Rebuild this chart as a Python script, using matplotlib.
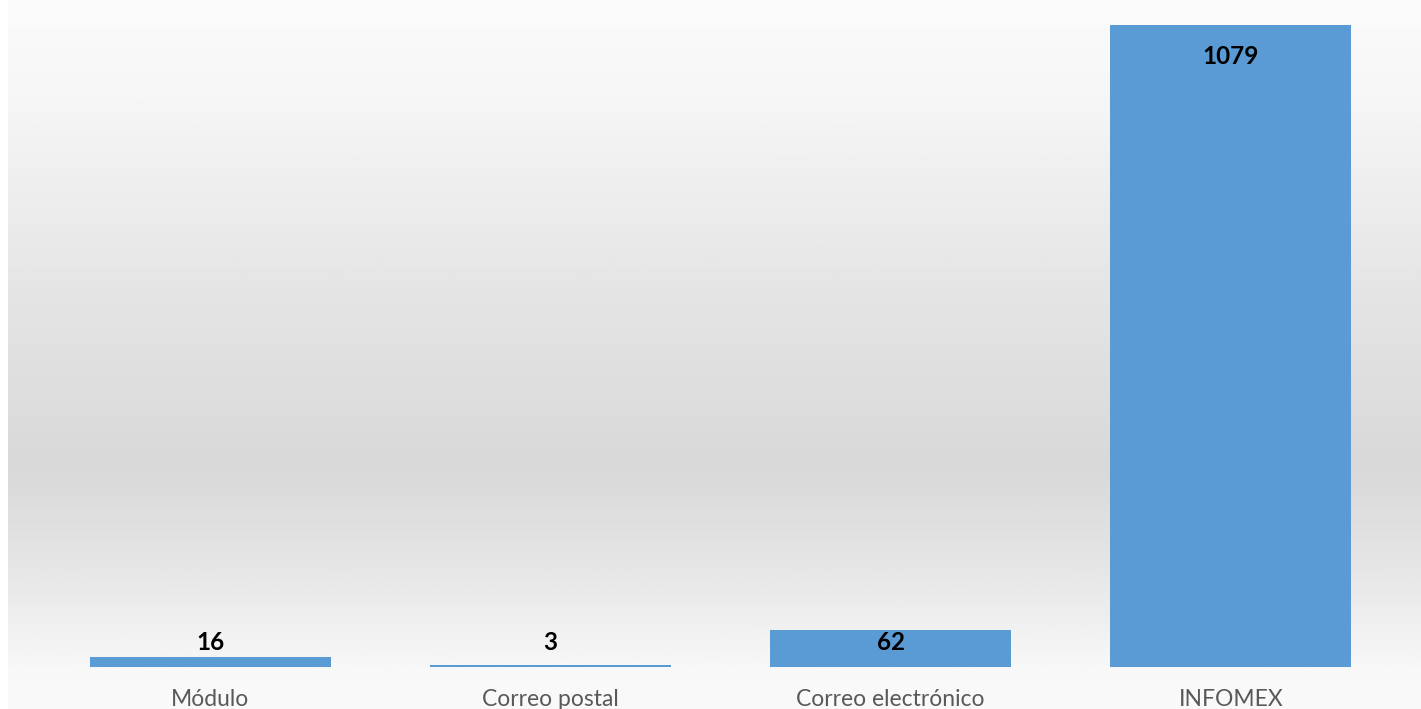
import numpy as np
import matplotlib
matplotlib.use("Agg")
import matplotlib.pyplot as plt
from matplotlib.colors import LinearSegmentedColormap

categories = ["Módulo", "Correo postal", "Correo electrónico", "INFOMEX"]
values = [16, 3, 62, 1079]

W, H, DPI = 1421, 709, 100
fig = plt.figure(figsize=(W / DPI, H / DPI), dpi=DPI)
fig.patch.set_facecolor("white")

# background gradient (figure level)
bg = fig.add_axes([8 / W, 0, 1 - 8 / W, 1], zorder=0)
stops = [(0.0, 0.985), (0.12, 0.97), (0.40, 0.90), (0.66, 0.85),
         (0.80, 0.90), (0.95, 0.975), (1.0, 0.98)]
cmap = LinearSegmentedColormap.from_list("bg", [(p, (g, g, g)) for p, g in stops])
grad = np.linspace(0, 1, 512).reshape(-1, 1)
bg.imshow(grad, aspect="auto", cmap=cmap, vmin=0, vmax=1, extent=[0, 1, 1, 0])
bg.set_axis_off()

ax = fig.add_axes([40 / W, 42 / H, 1361 / W, 666 / H], zorder=1)
ax.patch.set_alpha(0)
x = np.arange(len(categories))
ax.bar(x, values, width=0.708, color="#5B9BD5", edgecolor="none")
ax.set_xlim(-0.5, len(categories) - 0.5)
ax.set_ylim(0, 1120)

for xi, v in zip(x, values):
    ax.text(xi, max(v - 52, 42), str(v), ha="center", va="center",
            fontsize=17.5, fontweight="bold", color="black", family="Lato")

ax.set_xticks(x)
ax.set_xticklabels(categories, fontsize=16.5, color="#595959", family="Lato")
ax.tick_params(axis="x", length=0, pad=16)
ax.set_yticks([])
for s in ax.spines.values():
    s.set_visible(False)

fig.savefig("out.png", dpi=DPI)
